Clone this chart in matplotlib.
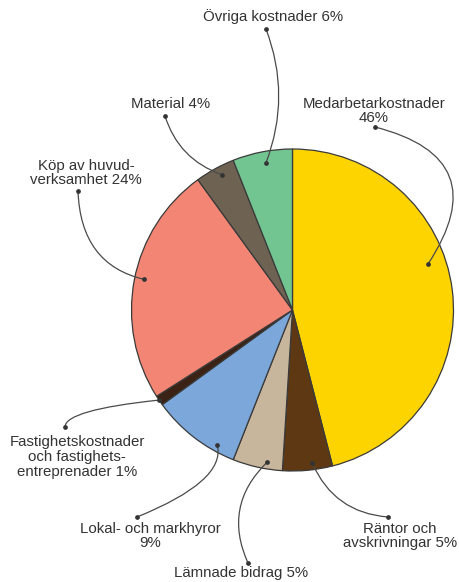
import matplotlib
matplotlib.use("Agg")
import matplotlib.pyplot as plt
import numpy as np
from matplotlib.patches import FancyArrowPatch

# cost shares, clockwise from 12 o'clock
categories = ["Medarbetarkostnader", "Räntor och avskrivningar", "Lämnade bidrag",
              "Lokal- och markhyror", "Fastighetskostnader och fastighetsentreprenader",
              "Köp av huvudverksamhet", "Material", "Övriga kostnader"]
shares = [46, 5, 5, 9, 1, 24, 4, 6]
labels = ["Medarbetarkostnader\n46%", "Räntor och\navskrivningar 5%", "Lämnade bidrag 5%",
          "Lokal- och markhyror\n9%", "Fastighetskostnader\noch fastighets-\nentreprenader 1%",
          "Köp av huvud-\nverksamhet 24%", "Material 4%", "Övriga kostnader 6%"]
colors = ["#FDD300", "#5E3713", "#C7B59C", "#7BA7DA", "#3A2314", "#F28573", "#6E6253", "#72C490"]

W, H = 460, 582
CENTER = (292.5, H - 310)
RADIUS = 161
TEXT_COLOR = "#333333"
LINE_COLOR = "#4a4a4a"

# layout in pixels from the top-left corner:
# text centre, dot at the label end, (position along wedge, fraction of radius), connector
layout = [
    ((374, 111), (375, 127), (0.43, 0.89), "arc3,rad=-0.7"),
    ((400, 536), (388, 517), (0.39, 0.96), "arc3,rad=-0.3"),
    ((241, 573), (248, 563), (0.33, 0.96), "arc3,rad=-0.35"),
    ((150, 536), (137, 517), (0.23, 0.96), "angle3,angleA=22,angleB=-77"),
    ((77, 457), (65, 427), (0.55, 1.0), "angle3,angleA=90,angleB=6"),
    ((86, 173), (78, 191), (0.51, 0.94), "angle3,angleA=92,angleB=-13"),
    ((171, 104), (165, 116), (0.58, 0.95), "arc3,rad=0.25"),
    ((273, 17), (266, 29), (0.53, 0.93), "arc3,rad=-0.19"),
]

plt.rcParams["font.family"] = ["Liberation Sans", "DejaVu Sans"]

fig = plt.figure(figsize=(W / 100, H / 100), dpi=100)
ax = fig.add_axes([0, 0, 1, 1])

wedges, _ = ax.pie(shares, colors=colors, startangle=90, counterclock=False,
                   center=CENTER, radius=RADIUS,
                   wedgeprops=dict(edgecolor="#3a3a3a", linewidth=0.9))

for wedge, label, (text_xy, dot_xy, (t, rf), style) in zip(wedges, labels, layout):
    # clockwise pie: each wedge starts at theta2 and runs down to theta1
    ang = np.deg2rad(wedge.theta2 - t * (wedge.theta2 - wedge.theta1))
    anchor = (CENTER[0] + rf * RADIUS * np.cos(ang), CENTER[1] + rf * RADIUS * np.sin(ang))
    dot = (dot_xy[0], H - dot_xy[1])
    ax.add_patch(FancyArrowPatch(dot, anchor, arrowstyle="-", connectionstyle=style,
                                 color=LINE_COLOR, lw=0.9, shrinkA=0, shrinkB=0, zorder=3))
    ax.plot([dot[0], anchor[0]], [dot[1], anchor[1]], "o", ms=2.4, color=TEXT_COLOR,
            linestyle="none", zorder=4)
    ax.text(text_xy[0], H - text_xy[1], label, ha="center", va="center",
            fontsize=10.8, color=TEXT_COLOR, linespacing=1.08, multialignment="center")

ax.set_xlim(0, W)
ax.set_ylim(0, H)
ax.axis("off")

fig.savefig("out.png", dpi=100)
